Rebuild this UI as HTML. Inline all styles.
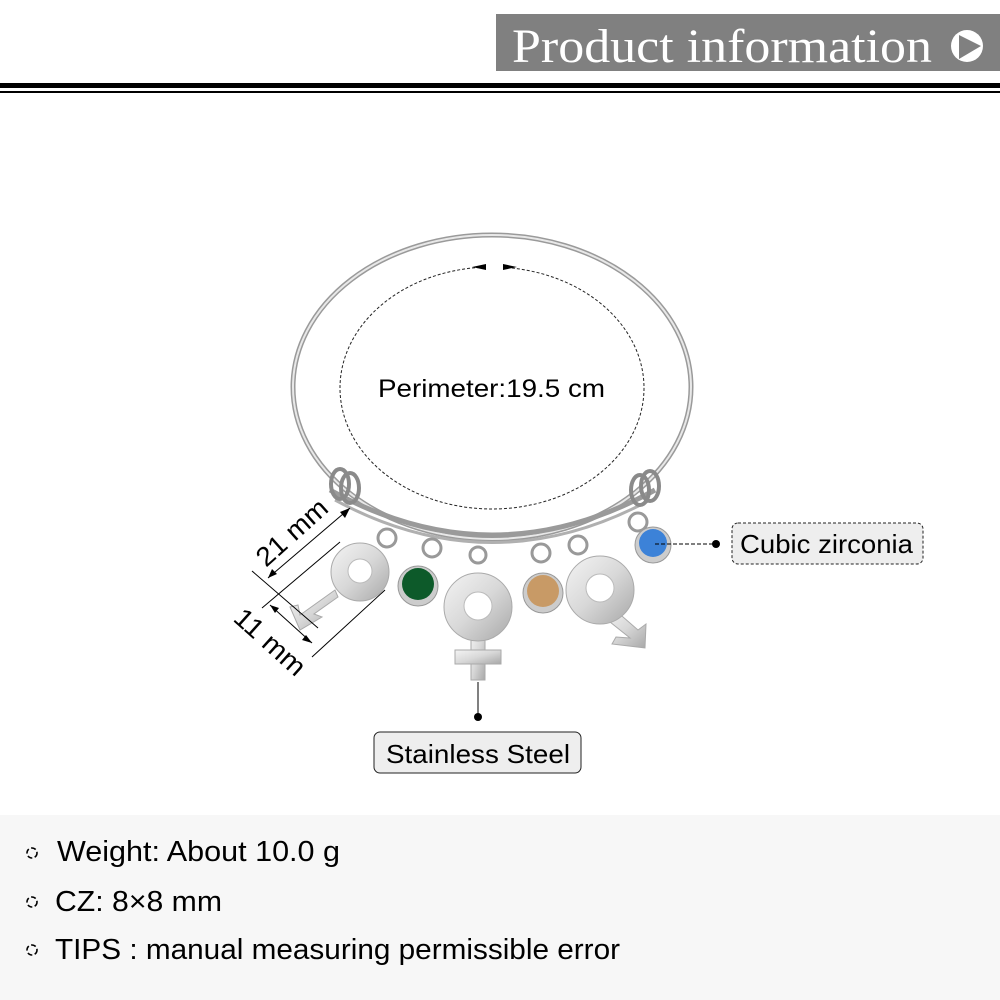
<!DOCTYPE html>
<html><head><meta charset="utf-8"><style>
html,body{margin:0;padding:0;background:#fff;width:1000px;height:1000px;overflow:hidden}
svg{display:block}
text{font-family:"Liberation Sans",sans-serif}
</style></head><body>
<svg width="1000" height="1000" viewBox="0 0 1000 1000">
<defs>
<linearGradient id="met" x1="0" y1="0" x2="1" y2="1">
<stop offset="0" stop-color="#f4f4f4"/><stop offset="0.5" stop-color="#d8d8d8"/><stop offset="1" stop-color="#a8a8a8"/></linearGradient>
</defs>
<rect x="496" y="14" width="504" height="57" fill="#808080"/>
<text x="512" y="62" font-size="48" fill="#fff" textLength="420" lengthAdjust="spacingAndGlyphs" style="font-family:'Liberation Serif',serif">Product information</text>
<circle cx="967" cy="46" r="16" fill="#fff"/>
<path d="M959,35 L981,46 L959,59 Z" fill="#808080"/>
<rect x="0" y="83" width="1000" height="5" fill="#000"/>
<rect x="0" y="91" width="1000" height="2" fill="#000"/>

<!-- bangle -->
<ellipse cx="492" cy="387" rx="199" ry="152" fill="none" stroke="#9a9a9a" stroke-width="5"/>
<ellipse cx="492" cy="387" rx="199" ry="152" fill="none" stroke="#e8e8e8" stroke-width="2"/>
<path d="M330,490 Q492,580 655,490" fill="none" stroke="#9a9a9a" stroke-width="5"/>
<path d="M335,500 Q492,585 650,500" fill="none" stroke="#b0b0b0" stroke-width="3"/>
<g fill="none" stroke="#8a8a8a" stroke-width="4">
<ellipse cx="340" cy="484" rx="9" ry="15"/><ellipse cx="350" cy="488" rx="9" ry="15"/>
<ellipse cx="640" cy="490" rx="9" ry="15"/><ellipse cx="650" cy="486" rx="9" ry="15"/>
</g>
<!-- dashed perimeter -->
<ellipse cx="492" cy="388" rx="152" ry="121" fill="none" stroke="#222" stroke-width="1" stroke-dasharray="3,2"/>
<rect x="478" y="258" width="26" height="14" fill="#fff"/>
<path d="M472,267 L486,264 L486,270 Z" fill="#000"/>
<path d="M503,267 L517,264 L517,270 Z" fill="#000" transform="rotate(180 510 267)"/>
<text x="378" y="397" font-size="25" fill="#000" textLength="227" lengthAdjust="spacingAndGlyphs">Perimeter:19.5 cm</text>

<!-- charms -->
<g stroke="#999" stroke-width="3" fill="none">
<circle cx="387" cy="538" r="9"/><circle cx="432" cy="548" r="9"/><circle cx="478" cy="555" r="8"/>
<circle cx="541" cy="553" r="9"/><circle cx="578" cy="545" r="9"/><circle cx="638" cy="522" r="9"/>
</g>
<g fill="url(#met)" stroke="#aaa" stroke-width="1">
<path d="M335,590 L300,615 L298,605 L290,607 L300,630 L322,617 L314,614 L338,597 Z"/>
<circle cx="360" cy="572" r="29"/>
</g>
<circle cx="360" cy="571" r="12" fill="#fff" stroke="#bbb"/>
<g fill="url(#met)" stroke="#aaa" stroke-width="1">
<rect x="471" y="630" width="14" height="50"/>
<rect x="455" y="650" width="46" height="14"/>
<circle cx="478" cy="607" r="34"/>
</g>
<circle cx="478" cy="606" r="14" fill="#fff" stroke="#bbb"/>
<g fill="url(#met)" stroke="#aaa" stroke-width="1">
<path d="M605,618 L630,638 L616,637 L612,644 L645,648 L646,624 L638,630 L615,610 Z"/>
<circle cx="600" cy="590" r="34"/>
</g>
<circle cx="600" cy="588" r="14" fill="#fff" stroke="#bbb"/>
<circle cx="418" cy="586" r="20" fill="#ccc" stroke="#999"/><circle cx="418" cy="584" r="16" fill="#0d5a2a"/>
<circle cx="543" cy="593" r="20" fill="#ccc" stroke="#999"/><circle cx="543" cy="591" r="16" fill="#c89a66"/>
<circle cx="653" cy="545" r="18" fill="#ccc" stroke="#999"/><circle cx="653" cy="543" r="14" fill="#3c82d8"/>

<!-- dimension lines -->
<g stroke="#000" stroke-width="1" fill="none">
<line x1="350" y1="508" x2="268" y2="578"/>
<line x1="252" y1="571" x2="318" y2="628"/>
<line x1="262" y1="608" x2="340" y2="542"/>
<line x1="270" y1="605" x2="312" y2="643"/>
<line x1="312" y1="657" x2="385" y2="590"/>
<line x1="478" y1="682" x2="478" y2="717"/>
<line x1="655" y1="544" x2="714" y2="544" stroke-dasharray="4,2"/>
</g>
<path d="M350,508 L340,512 L345,518 Z" fill="#000"/>
<path d="M268,578 L272,569 L277,574 Z" fill="#000"/>
<path d="M270,605 L279,608 L275,613 Z" fill="#000"/>
<path d="M312,643 L302,640 L306,635 Z" fill="#000"/>
<circle cx="478" cy="717" r="4" fill="#000"/>
<circle cx="716" cy="544" r="4" fill="#000"/>
<text font-size="27" fill="#000" transform="translate(266,568) rotate(-42)" textLength="86" lengthAdjust="spacingAndGlyphs">21 mm</text>
<text font-size="27" fill="#000" transform="translate(232,620) rotate(42)" textLength="86" lengthAdjust="spacingAndGlyphs">11 mm</text>

<rect x="732" y="523" width="191" height="41" rx="6" fill="#eee" stroke="#222" stroke-dasharray="3,2"/>
<text x="740" y="553" font-size="26" fill="#000" textLength="173" lengthAdjust="spacingAndGlyphs">Cubic zirconia</text>
<rect x="374" y="732" width="207" height="41" rx="6" fill="#eee" stroke="#222"/>
<text x="386" y="763" font-size="26" fill="#000" textLength="184" lengthAdjust="spacingAndGlyphs">Stainless Steel</text>

<!-- bottom panel -->
<rect x="0" y="815" width="1000" height="185" fill="#f7f7f7"/>
<g fill="none" stroke="#000" stroke-width="1.6" stroke-dasharray="5,2.5">
<circle cx="32" cy="853" r="5"/><circle cx="32" cy="902" r="5"/><circle cx="32" cy="950" r="5"/>
</g>
<text x="57" y="861" font-size="29" fill="#000" textLength="283" lengthAdjust="spacingAndGlyphs">Weight: About 10.0 g</text>
<text x="55" y="911" font-size="29" fill="#000" textLength="167" lengthAdjust="spacingAndGlyphs">CZ: 8×8 mm</text>
<text x="55" y="959" font-size="29" fill="#000" textLength="565" lengthAdjust="spacingAndGlyphs">TIPS : manual measuring permissible error</text>
</svg>
</body></html>
